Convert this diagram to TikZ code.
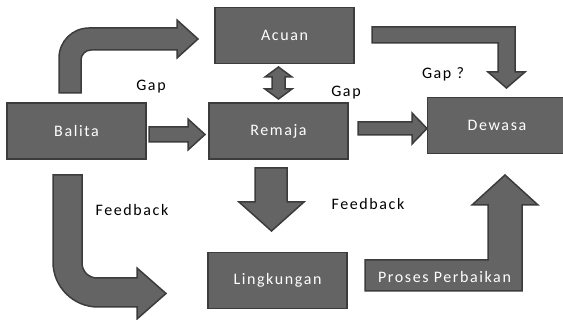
\documentclass[tikz,border=0pt]{standalone}
\usepackage{fontspec}
\setmainfont{Carlito}[LetterSpace=10]
\usetikzlibrary{positioning}
\definecolor{boxfill}{HTML}{646464}
\definecolor{boxline}{HTML}{3C3C3C}

\begin{document}
\begin{tikzpicture}[x=1pt, y=-1pt,
    every node/.style={font=\fontsize{16}{18}\selectfont},
    stage/.style={draw=boxline, fill=boxfill, line width=1.5pt, text=white,
      minimum width=139pt, minimum height=56pt, inner sep=0pt},
    blockarrow/.style={draw=boxline, fill=boxfill, line width=1.5pt, line join=miter},
    lbl/.style={anchor=base, text=black, inner sep=0pt}]
  \useasboundingbox (0,0) rectangle (563,320);
  % stages
  \node[stage] (Acuan) at (284.5,35.5) {Acuan};
  \node[stage] (Balita) at (76.5,131) {Balita};
  \node[stage] (Remaja) at (278.5,131) {Remaja};
  \node[stage] (Dewasa) at (497,125.5) {Dewasa};
  \node[stage] (Lingk) at (277.5,280.5) {Lingkungan};
  % straight block arrows
  \draw[blockarrow] (149,127) -- (188,127) -- (188,119) -- (205,134.5)
    -- (188,150) -- (188,142) -- (149,142) -- cycle;
  \draw[blockarrow] (358,122) -- (412,122) -- (412,113) -- (427,128.5)
    -- (412,144) -- (412,135) -- (358,135) -- cycle;
  \draw[blockarrow] (278.5,67) -- (292,77) -- (285,77) -- (285,89) -- (292,89)
    -- (278.5,99) -- (265,89) -- (272,89) -- (272,77) -- (265,77) -- cycle;
  \draw[blockarrow] (255,168) -- (287,168) -- (287,202) -- (304,202)
    -- (271.5,231) -- (239,202) -- (255,202) -- cycle;
  % bent block arrows
  \draw[blockarrow] (59,93) -- (59,58) .. controls (59,41.4) and (72.4,28) .. (89,28)
    -- (177,28) -- (177,20) -- (198,39) -- (177,58) -- (177,50) -- (91,50)
    .. controls (85.5,50) and (81,54.5) .. (81,60) -- (81,93) -- cycle;
  \draw[blockarrow] (53,175) -- (53,262) .. controls (53,286.8) and (73.2,307) .. (98,307)
    -- (137,307) -- (137,319) -- (166,293.5) -- (137,268) -- (137,278) -- (97,278)
    .. controls (88.7,278) and (82,271.3) .. (82,263) -- (82,175) -- cycle;
  \draw[blockarrow] (372,27) -- (515,27) -- (515,72) -- (525,72) -- (506.5,88)
    -- (488,72) -- (498,72) -- (498,43) -- (372,43) -- cycle;
  \draw[blockarrow] (365,291) -- (522,291) -- (522,205) -- (538,205) -- (505,175)
    -- (472,205) -- (488,205) -- (488,260) -- (365,260) -- cycle;
  \node[lbl, text=white] (Proses) at (444.5,283) {Proses Perbaikan};
  % labels
  \node[lbl] (gap1) at (151,90.5) {Gap};
  \node[lbl] (gap2) at (346,97) {Gap};
  \node[lbl] (gap3) at (443,79) {Gap ?};
  \node[lbl] (fb1) at (132,216) {Feedback};
  \node[lbl] (fb2) at (368,209.5) {Feedback};
\end{tikzpicture}
\end{document}
